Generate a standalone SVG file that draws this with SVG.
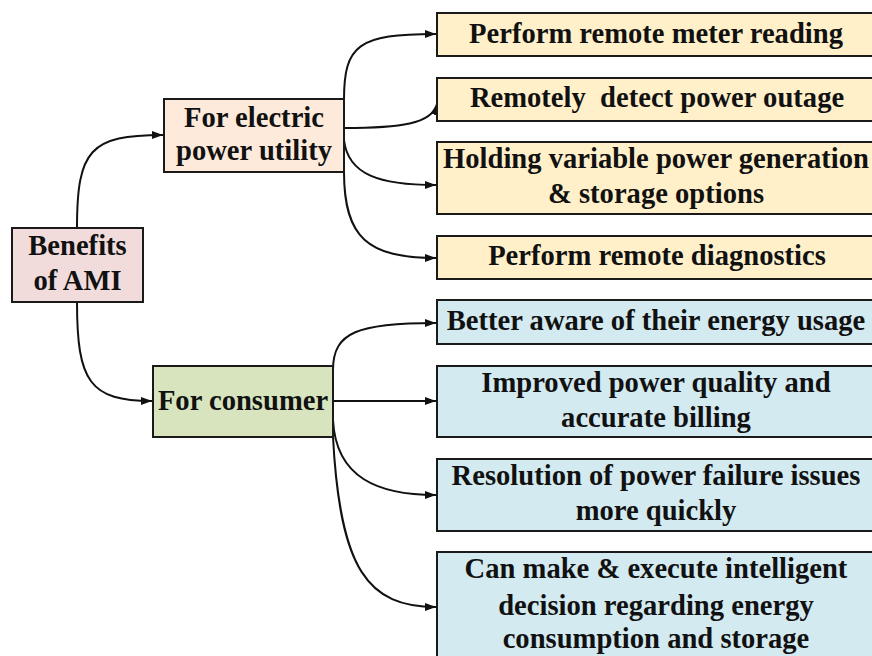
<svg xmlns="http://www.w3.org/2000/svg" width="872" height="656" viewBox="0 0 872 656">
<defs>
<style>
.box{stroke:#1a1a1a;stroke-width:2}
.root{fill:#F2DCDB}
.util{fill:#FDEADA}
.cons{fill:#D7E4BD}
.y{fill:#FFF0C9}
.b{fill:#D3EAF0}
text{font-family:"Liberation Serif","Times New Roman",serif;font-weight:bold;font-size:28.6px;fill:#111;text-anchor:middle;white-space:pre}
.c{fill:none;stroke:#111;stroke-width:2}
</style>
<marker id="ah" markerUnits="userSpaceOnUse" markerWidth="12" markerHeight="9" refX="11" refY="4" orient="auto">
<path d="M0,0 L11,4 L0,8 z" fill="#111"/>
</marker>
</defs>
<rect width="872" height="656" fill="#fff"/>
<g id="connectors">
<path class="c" marker-end="url(#ah)" d="M77,228 C77,150 90,135 163,135"/>
<path class="c" marker-end="url(#ah)" d="M77,302 C77,382 90,401 152,401"/>
<path class="c" marker-end="url(#ah)" d="M344,100 C344,45 358,34 436,34"/>
<path class="c" marker-end="url(#ah)" d="M344,128 C400,128 432,124 437,104"/>
<path class="c" marker-end="url(#ah)" d="M344,140 C348,175 380,185 436,185"/>
<path class="c" marker-end="url(#ah)" d="M344,172 C344,238 368,258 436,258"/>
<path class="c" marker-end="url(#ah)" d="M333,370 C333,332 358,323 436,323"/>
<path class="c" marker-end="url(#ah)" d="M333,401 L436,401"/>
<path class="c" marker-end="url(#ah)" d="M333,420 C336,478 378,495 436,495"/>
<path class="c" marker-end="url(#ah)" d="M333,437 C340,570 368,607 436,607"/>
</g>
<g id="benefits">
<rect class="box root" x="12" y="228" width="131" height="74"/>
<text x="77.5" y="255">Benefits</text>
<text x="77.5" y="290">of AMI</text>
</g>
<g id="utility">
<rect class="box util" x="164" y="99" width="180" height="73"/>
<text x="254" y="127">For electric</text>
<text x="254" y="160">power utility</text>
</g>
<g id="consumer">
<rect class="box cons" x="153" y="366" width="180" height="71"/>
<text x="243" y="410">For consumer</text>
</g>
<g id="u1">
<rect class="box y" x="437" y="13" width="445" height="43"/>
<text x="656" y="43">Perform remote meter reading</text>
</g>
<g id="u2">
<rect class="box y" x="437" y="78" width="445" height="43"/>
<text x="657" y="107">Remotely  detect power outage</text>
</g>
<g id="u3">
<rect class="box y" x="437" y="142" width="445" height="72"/>
<text x="656" y="168">Holding variable power generation</text>
<text x="656" y="203">&amp; storage options</text>
</g>
<g id="u4">
<rect class="box y" x="437" y="236" width="445" height="43"/>
<text x="657" y="265">Perform remote diagnostics</text>
</g>
<g id="c1">
<rect class="box b" x="437" y="300" width="445" height="44"/>
<text x="656" y="330">Better aware of their energy usage</text>
</g>
<g id="c2">
<rect class="box b" x="437" y="366" width="445" height="71"/>
<text x="656" y="392">Improved power quality and</text>
<text x="656" y="427">accurate billing</text>
</g>
<g id="c3">
<rect class="box b" x="437" y="459" width="445" height="72"/>
<text x="656" y="485">Resolution of power failure issues</text>
<text x="656" y="520">more quickly</text>
</g>
<g id="c4">
<rect class="box b" x="437" y="552" width="445" height="120"/>
<text x="656" y="578">Can make &amp; execute intelligent</text>
<text x="656" y="615">decision regarding energy</text>
<text x="656" y="648">consumption and storage</text>
</g>
</svg>
